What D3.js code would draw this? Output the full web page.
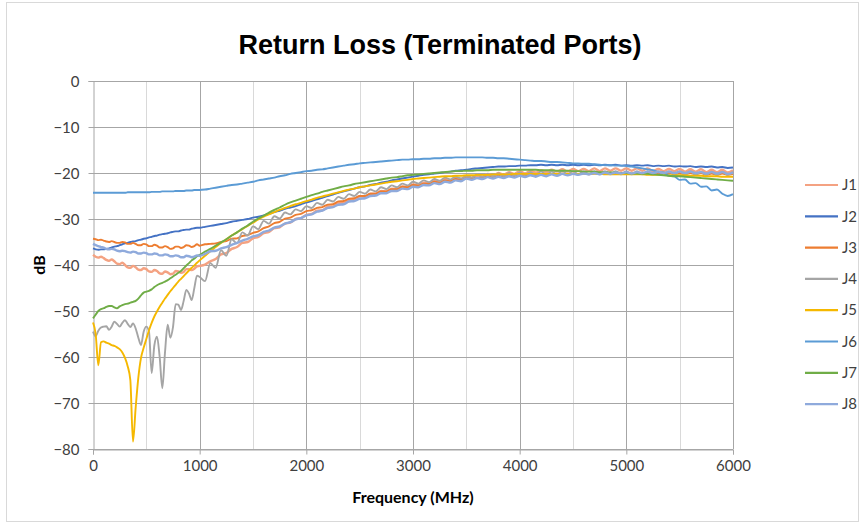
<!DOCTYPE html>
<meta charset="utf-8">
<body style="margin:0;background:#fff">
<script src="https://cdn.jsdelivr.net/npm/d3@7"></script>
<div id="chart"></div>
<script>
// sample frequencies (MHz): 25 MHz steps below 1 GHz, 50 MHz above
var freqs = d3.range(0, 1000, 25).concat(d3.range(1000, 6001, 50));

var seriesNames = ["J1", "J2", "J3", "J4", "J5", "J6", "J7", "J8"];
var seriesColors = ["#F4A282", "#4472C4", "#ED7D31", "#A5A5A5", "#F5B800", "#5B9BD5", "#70AD47", "#8FAADC"];
var xTicks = [0, 1000, 2000, 3000, 4000, 5000, 6000];
var yTicks = [0, -10, -20, -30, -40, -50, -60, -70, -80];

// return loss (dB) per port
var j1 = [
  -37.8, -38.2, -38.4, -38.2, -38.5, -38.9, -39.1, -38.8, -39.2, -39.7,
  -39.8, -39.5, -40.0, -40.5, -40.6, -40.2, -40.5, -41.0, -41.1, -40.7,
  -40.9, -41.4, -41.5, -41.1, -41.3, -41.8, -41.9, -41.4, -41.6, -42.0,
  -41.9, -41.3, -41.4, -41.7, -41.5, -40.9, -40.9, -41.1, -40.8, -40.3,
  -40.2, -39.9, -39.2, -38.7, -37.7, -37.4, -36.5, -36.1, -35.2, -35.0,
  -34.2, -33.9, -33.1, -32.8, -32.0, -31.8, -31.0, -30.8, -30.0, -29.8,
  -29.1, -28.9, -28.2, -28.1, -27.4, -27.3, -26.6, -26.5, -25.8, -25.8,
  -25.1, -25.1, -24.5, -24.5, -23.9, -24.0, -23.4, -23.5, -22.9, -23.0,
  -22.5, -22.6, -22.1, -22.2, -21.7, -21.9, -21.3, -21.6, -21.0, -21.3,
  -20.7, -21.0, -20.4, -20.8, -20.2, -20.6, -20.0, -20.4, -19.8, -20.2,
  -19.6, -20.1, -19.5, -19.9, -19.4, -19.8, -19.3, -19.7, -19.2, -19.7,
  -19.1, -19.6, -19.1, -19.6, -19.0, -19.6, -19.0, -19.5, -19.0, -19.5,
  -19.0, -19.5, -19.0, -19.5, -19.0, -19.6, -19.1, -19.6, -19.1, -19.6,
  -19.1, -19.7, -19.2, -19.7, -19.2, -19.8, -19.3, -19.8, -19.3, -19.9,
  -19.4];
var j2 = [
  -36.4, -36.6, -36.7, -36.6, -36.6, -36.5, -36.4, -36.2, -36.0, -35.9,
  -35.7, -35.5, -35.3, -35.2, -35.0, -34.9, -34.8, -34.6, -34.5, -34.3,
  -34.2, -34.0, -33.9, -33.7, -33.6, -33.4, -33.3, -33.2, -33.1, -32.9,
  -32.8, -32.7, -32.7, -32.5, -32.4, -32.3, -32.3, -32.1, -32.0, -31.9,
  -31.9, -31.7, -31.5, -31.3, -31.1, -30.9, -30.6, -30.4, -30.2, -30.0,
  -29.7, -29.5, -29.2, -28.9, -28.5, -28.2, -27.8, -27.5, -27.2, -26.8,
  -26.4, -26.1, -25.7, -25.4, -25.0, -24.7, -24.3, -24.0, -23.7, -23.4,
  -23.1, -22.9, -22.6, -22.4, -22.1, -21.9, -21.6, -21.4, -21.2, -21.0,
  -20.8, -20.6, -20.4, -20.3, -20.1, -20.0, -19.8, -19.7, -19.5, -19.4,
  -19.3, -19.1, -19.0, -18.9, -18.8, -18.7, -18.6, -18.6, -18.5, -18.5,
  -18.4, -18.4, -18.3, -18.3, -18.2, -18.3, -18.2, -18.3, -18.2, -18.3,
  -18.2, -18.3, -18.2, -18.3, -18.2, -18.3, -18.2, -18.3, -18.2, -18.4,
  -18.3, -18.4, -18.3, -18.4, -18.3, -18.5, -18.4, -18.5, -18.4, -18.6,
  -18.5, -18.6, -18.5, -18.7, -18.6, -18.7, -18.6, -18.8, -18.7, -18.9,
  -18.8];
var j3 = [
  -34.3, -34.4, -34.6, -34.5, -34.7, -34.9, -35.0, -34.8, -35.0, -35.2,
  -35.2, -35.0, -35.1, -35.4, -35.4, -35.2, -35.4, -35.7, -35.7, -35.4,
  -35.5, -35.9, -35.9, -35.6, -35.8, -36.2, -36.2, -35.9, -36.1, -36.5,
  -36.4, -36.0, -36.0, -36.3, -36.1, -35.7, -35.8, -36.1, -35.9, -35.5,
  -35.8, -35.5, -35.4, -35.3, -35.0, -34.8, -34.3, -34.2, -33.7, -33.5,
  -33.0, -32.7, -32.0, -31.6, -30.9, -30.6, -29.9, -29.7, -29.1, -28.9,
  -28.3, -28.1, -27.6, -27.4, -26.9, -26.8, -26.2, -26.1, -25.6, -25.5,
  -25.0, -25.0, -24.5, -24.5, -24.0, -24.0, -23.5, -23.5, -23.0, -23.1,
  -22.6, -22.7, -22.3, -22.4, -21.9, -22.1, -21.6, -21.8, -21.3, -21.5,
  -21.1, -21.3, -20.9, -21.1, -20.7, -21.0, -20.6, -20.9, -20.5, -20.8,
  -20.4, -20.7, -20.3, -20.6, -20.2, -20.5, -20.2, -20.4, -20.1, -20.4,
  -20.1, -20.3, -20.0, -20.3, -20.0, -20.2, -19.9, -20.2, -19.9, -20.2,
  -19.9, -20.2, -19.9, -20.2, -19.9, -20.2, -19.9, -20.2, -19.9, -20.3,
  -20.0, -20.3, -20.0, -20.3, -20.0, -20.4, -20.1, -20.4, -20.1, -20.4,
  -20.2];
var j4 = [
  -54.5, -55.5, -54.3, -53.6, -53.4, -53.3, -54.1, -53.4, -52.3, -52.8,
  -53.4, -52.6, -52.0, -52.8, -53.5, -52.7, -53.8, -55.8, -57.4, -54.5,
  -53.4, -54.5, -63.5, -57.5, -55.6, -60.0, -66.8, -59.0, -53.0, -55.8,
  -53.5, -48.5, -48.6, -49.8, -47.8, -45.4, -46.2, -47.6, -45.0, -42.3,
  -42.6, -43.5, -39.6, -40.6, -36.8, -38.0, -34.4, -35.3, -32.9, -33.6,
  -31.6, -32.2, -30.4, -31.0, -29.4, -29.9, -28.6, -29.0, -27.9, -28.3,
  -27.2, -27.6, -26.5, -26.9, -25.8, -26.2, -25.2, -25.6, -24.6, -25.0,
  -24.1, -24.5, -23.6, -24.0, -23.1, -23.5, -22.7, -23.1, -22.3, -22.7,
  -21.9, -22.3, -21.6, -22.0, -21.3, -21.7, -21.0, -21.4, -20.8, -21.2,
  -20.6, -21.0, -20.4, -20.8, -20.2, -20.7, -20.1, -20.6, -20.0, -20.5,
  -19.9, -20.4, -19.8, -20.4, -19.7, -20.3, -19.7, -20.3, -19.6, -20.3,
  -19.6, -20.3, -19.6, -20.3, -19.6, -20.3, -19.6, -20.3, -19.6, -20.3,
  -19.6, -20.3, -19.6, -20.3, -19.6, -20.4, -19.6, -20.4, -19.6, -20.4,
  -19.6, -20.4, -19.6, -20.4, -19.7, -20.4, -19.7, -20.4, -19.7, -20.4,
  -19.7];
var j5 = [
  -52.5, -55.0, -61.8, -56.8, -56.6, -56.9, -57.1, -57.4, -57.6, -57.9,
  -58.3, -59.0, -60.2, -62.0, -65.0, -78.4, -71.0, -64.5, -60.2, -58.0,
  -56.1, -54.2, -52.6, -51.2, -50.1, -49.1, -48.2, -47.3, -46.5, -45.7,
  -45.0, -44.3, -43.6, -43.0, -42.4, -41.8, -41.2, -40.6, -40.1, -39.5,
  -39.0, -38.0, -37.0, -36.1, -35.2, -34.4, -33.6, -32.9, -32.2, -31.5,
  -30.8, -30.1, -29.5, -29.0, -28.5, -28.0, -27.6, -27.2, -26.8, -26.5,
  -26.1, -25.8, -25.4, -25.1, -24.8, -24.5, -24.2, -23.9, -23.6, -23.4,
  -23.1, -22.9, -22.7, -22.5, -22.3, -22.1, -21.9, -21.8, -21.6, -21.5,
  -21.3, -21.2, -21.1, -21.0, -20.9, -20.8, -20.7, -20.7, -20.6, -20.6,
  -20.5, -20.5, -20.4, -20.4, -20.4, -20.3, -20.3, -20.3, -20.3, -20.2,
  -20.2, -20.2, -20.2, -20.2, -20.2, -20.2, -20.2, -20.2, -20.2, -20.2,
  -20.2, -20.2, -20.2, -20.2, -20.2, -20.2, -20.3, -20.3, -20.3, -20.3,
  -20.3, -20.3, -20.3, -20.3, -20.4, -20.4, -20.4, -20.4, -20.5, -20.5,
  -20.5, -20.5, -20.6, -20.6, -20.6, -20.7, -20.7, -20.7, -20.8, -20.8,
  -20.8];
var j6 = [
  -24.3, -24.3, -24.3, -24.3, -24.3, -24.3, -24.3, -24.3, -24.3, -24.3,
  -24.3, -24.3, -24.3, -24.2, -24.2, -24.2, -24.2, -24.2, -24.2, -24.2,
  -24.2, -24.2, -24.1, -24.1, -24.1, -24.1, -24.0, -24.0, -24.0, -24.0,
  -24.0, -23.9, -23.9, -23.9, -23.9, -23.8, -23.8, -23.8, -23.7, -23.7,
  -23.7, -23.6, -23.4, -23.2, -23.0, -22.8, -22.6, -22.5, -22.3, -22.1,
  -21.9, -21.6, -21.4, -21.2, -21.0, -20.7, -20.5, -20.2, -20.0, -19.8,
  -19.6, -19.5, -19.3, -19.2, -19.0, -18.8, -18.6, -18.4, -18.2, -18.1,
  -17.9, -17.8, -17.7, -17.6, -17.5, -17.4, -17.3, -17.2, -17.1, -17.1,
  -17.0, -17.0, -16.9, -16.9, -16.8, -16.8, -16.7, -16.7, -16.6, -16.6,
  -16.6, -16.6, -16.6, -16.6, -16.7, -16.7, -16.8, -16.8, -16.9, -17.0,
  -17.1, -17.2, -17.3, -17.4, -17.4, -17.5, -17.6, -17.6, -17.7, -17.8,
  -17.9, -17.9, -18.0, -18.0, -18.1, -18.2, -18.3, -18.3, -18.4, -18.4,
  -18.5, -18.6, -18.8, -19.0, -19.2, -19.4, -19.8, -19.9, -20.6, -20.7,
  -21.5, -21.4, -22.3, -22.2, -23.0, -22.9, -23.8, -23.6, -24.5, -25.0,
  -24.6];
var j7 = [
  -51.6, -50.8, -50.0, -49.6, -49.4, -49.1, -48.9, -48.9, -49.2, -49.4,
  -49.0, -48.7, -48.5, -48.4, -48.2, -48.0, -47.8, -47.3, -46.6, -46.0,
  -45.8, -45.6, -45.3, -44.8, -44.4, -44.1, -43.9, -43.6, -43.3, -42.9,
  -42.5, -42.1, -41.7, -41.3, -40.7, -40.1, -39.6, -39.0, -38.6, -38.1,
  -37.8, -37.1, -36.5, -35.8, -35.1, -34.4, -33.6, -32.9, -32.1, -31.4,
  -30.6, -29.9, -29.3, -28.6, -28.0, -27.5, -26.9, -26.4, -26.0, -25.6,
  -25.2, -24.8, -24.5, -24.1, -23.8, -23.5, -23.2, -22.9, -22.7, -22.4,
  -22.2, -22.0, -21.8, -21.6, -21.4, -21.2, -21.0, -20.9, -20.7, -20.5,
  -20.4, -20.3, -20.2, -20.1, -20.0, -19.9, -19.8, -19.7, -19.6, -19.6,
  -19.5, -19.5, -19.4, -19.4, -19.4, -19.3, -19.3, -19.3, -19.3, -19.3,
  -19.3, -19.3, -19.3, -19.3, -19.4, -19.4, -19.4, -19.5, -19.5, -19.5,
  -19.6, -19.6, -19.7, -19.7, -19.7, -19.8, -19.8, -19.9, -19.9, -20.0,
  -20.0, -20.1, -20.1, -20.2, -20.2, -20.3, -20.4, -20.5, -20.6, -20.7,
  -20.7, -20.8, -20.9, -21.0, -21.1, -21.2, -21.3, -21.4, -21.5, -21.6,
  -21.7];
var j8 = [
  -35.4, -35.7, -35.9, -36.1, -36.2, -36.5, -36.6, -36.5, -36.6, -36.9,
  -37.0, -36.9, -37.0, -37.2, -37.3, -37.1, -37.2, -37.5, -37.5, -37.3,
  -37.4, -37.7, -37.7, -37.5, -37.6, -37.9, -37.9, -37.7, -37.8, -38.1,
  -38.1, -37.9, -38.0, -38.3, -38.3, -38.0, -38.1, -38.3, -38.2, -37.9,
  -38.0, -37.6, -37.0, -36.9, -36.4, -36.1, -35.6, -35.2, -34.7, -34.3,
  -33.8, -33.5, -32.8, -32.5, -31.9, -31.6, -31.0, -30.7, -30.1, -29.8,
  -29.2, -29.0, -28.4, -28.2, -27.6, -27.4, -26.9, -26.8, -26.2, -26.1,
  -25.6, -25.5, -25.0, -24.9, -24.4, -24.4, -23.9, -23.9, -23.4, -23.5,
  -23.0, -23.1, -22.6, -22.7, -22.2, -22.4, -21.9, -22.1, -21.6, -21.8,
  -21.2, -21.5, -21.1, -21.3, -20.9, -21.2, -20.8, -21.1, -20.7, -21.0,
  -20.6, -20.9, -20.5, -20.8, -20.4, -20.7, -20.3, -20.6, -20.2, -20.5,
  -20.2, -20.4, -20.1, -20.3, -20.0, -20.3, -19.9, -20.2, -19.9, -20.1,
  -19.8, -20.1, -19.8, -20.0, -19.7, -20.0, -19.7, -20.0, -19.7, -20.0,
  -19.7, -20.0, -19.7, -20.0, -19.8, -20.1, -19.8, -20.1, -19.8, -20.2,
  -19.9];

var seriesValues = [j1, j2, j3, j4, j5, j6, j7, j8];

// chart frame
var W = 865, H = 525;
var margin = {top: 81, right: 132, bottom: 76, left: 93},
    width = W - margin.left - margin.right,
    height = H - margin.top - margin.bottom;

var svg = d3.select("#chart")
  .append("svg")
    .attr("width", W)
    .attr("height", H)
    .style("font-family", "Lato, 'Open Sans', sans-serif");

// outer chart border
svg.append("rect")
  .attr("x", 6.5).attr("y", 2.5)
  .attr("width", 852).attr("height", 519)
  .attr("fill", "none")
  .attr("stroke", "#D9D9D9");

svg.append("text")
  .attr("x", 440).attr("y", 54)
  .attr("text-anchor", "middle")
  .style("font-family", "'Liberation Sans', Arial, sans-serif")
  .style("font-weight", "bold")
  .style("font-size", "27px")
  .attr("fill", "#000")
  .text("Return Loss (Terminated Ports)");

var g = svg.append("g")
  .attr("transform", "translate(" + margin.left + "," + margin.top + ")");

var x = d3.scaleLinear().domain([0, 6000]).range([0, width]);
var y = d3.scaleLinear().domain([-80, 0]).range([height, 0]);

// minor vertical gridlines (500 MHz)
g.append("g")
  .selectAll("line")
  .data(d3.range(500, 6000, 1000))
  .join("line")
    .attr("x1", function(d) { return Math.round(x(d)) + 0.5; })
    .attr("x2", function(d) { return Math.round(x(d)) + 0.5; })
    .attr("y1", 0).attr("y2", height)
    .attr("stroke", "#D9D9D9");

// major vertical gridlines
g.append("g")
  .selectAll("line")
  .data(xTicks.slice(1))
  .join("line")
    .attr("x1", function(d) { return Math.round(x(d)) + 0.5; })
    .attr("x2", function(d) { return Math.round(x(d)) + 0.5; })
    .attr("y1", 0).attr("y2", height)
    .attr("stroke", "#A6A6A6");

// horizontal gridlines
g.append("g")
  .selectAll("line")
  .data(yTicks)
  .join("line")
    .attr("x1", 0).attr("x2", width)
    .attr("y1", function(d) { return Math.round(y(d)) + 0.5; })
    .attr("y2", function(d) { return Math.round(y(d)) + 0.5; })
    .attr("stroke", "#A6A6A6");

// axes
var xAxis = g.append("g")
  .attr("transform", "translate(0," + (Math.round(height) + 0.5) + ")")
  .call(d3.axisBottom(x).tickValues(xTicks).tickSize(5).tickPadding(6).tickFormat(d3.format("d")));
var yAxis = g.append("g")
  .attr("transform", "translate(0.5,0)")
  .call(d3.axisLeft(y).tickValues(yTicks).tickSize(5).tickPadding(9).tickFormat(d3.format("d")));

[xAxis, yAxis].forEach(function(a) {
  a.select(".domain").attr("stroke", "#A6A6A6");
  a.selectAll(".tick line").attr("stroke", "#A6A6A6");
  a.selectAll(".tick text")
    .attr("fill", "#404040")
    .style("font-family", "Lato, 'Open Sans', sans-serif")
    .style("font-size", "15px");
});
yAxis.selectAll(".tick text").attr("dy", "0.35em");

// series lines
var line = d3.line()
  .x(function(d) { return x(d[0]); })
  .y(function(d) { return y(d[1]); })
  .curve(d3.curveMonotoneX);

seriesValues.forEach(function(vals, i) {
  var pts = freqs.map(function(f, k) { return [f, vals[k]]; });
  g.append("path")
    .datum(pts)
    .attr("fill", "none")
    .attr("stroke", seriesColors[i])
    .attr("stroke-width", (i === 0 || i === 7) ? 2.4 : 1.9)
    .attr("stroke-linejoin", "round")
    .attr("d", line);
});

// axis titles
svg.append("text")
  .attr("x", margin.left + width / 2).attr("y", 503)
  .attr("text-anchor", "middle")
  .style("font-weight", "bold")
  .style("font-size", "16px")
  .attr("fill", "#000")
  .text("Frequency (MHz)");

svg.append("text")
  .attr("transform", "translate(45," + (margin.top + height / 2) + ") rotate(-90)")
  .attr("text-anchor", "middle")
  .style("font-weight", "bold")
  .style("font-size", "16px")
  .attr("fill", "#000")
  .text("dB");

// legend
var legend = svg.append("g")
  .selectAll("g")
  .data(seriesNames)
  .join("g")
    .attr("transform", function(d, i) { return "translate(805," + (185 + i * 31.3) + ")"; });

legend.append("line")
  .attr("x1", 0).attr("x2", 33)
  .attr("stroke", function(d, i) { return seriesColors[i]; })
  .attr("stroke-width", 2.2);

legend.append("text")
  .attr("x", 37).attr("dy", "0.35em")
  .style("font-size", "15px")
  .attr("fill", "#404040")
  .text(function(d) { return d; });
</script>
</body>
